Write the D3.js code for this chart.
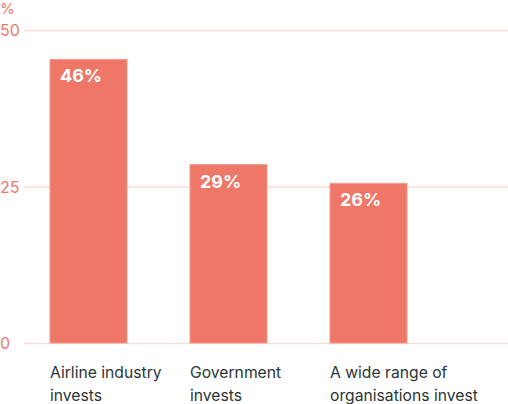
<!DOCTYPE html>
<html lang="en">
  <head>
    <meta charset="UTF-8" />
    <title>Investment</title>
  </head>
  <style type="text/css">
    body {
      margin: 0;
      background: #fff;
    }
    svg text {
      font-family: Inter, 'Noto Sans', sans-serif;
    }
  </style>

  <script src="https://d3js.org/d3.v7.min.js"></script>

  <body>
    <div class="chart"></div>
  </body>
  <script type="text/javascript">
    var categories = [
      ['Airline industry', 'invests'],
      ['Government', 'invests'],
      ['A wide range of', 'organisations invest']
    ]
    var values = [45.3, 28.5, 25.5]
    var valueLabels = ['46%', '29%', '26%']
    var yTicks = [0, 25, 50]

    var width = 508
    var height = 404
    var barColor = '#ee7768'
    var gridColor = '#fbdcd4'

    var svg = d3.select('.chart').append('svg').attr('width', width).attr('height', height)

    // y scale: 0 at 343, 50 at 30
    var y = d3.scaleLinear().domain([0, 50]).range([343, 30])
    // x band: bars 77 wide, step 140
    var x = d3
      .scaleBand()
      .domain(d3.range(categories.length))
      .range([50, 50 + 140 * categories.length - 63])
      .paddingInner(63 / 140)
      .paddingOuter(0)

    // grid lines
    svg
      .selectAll('.grid')
      .data(yTicks)
      .enter()
      .append('line')
      .attr('x1', 24)
      .attr('x2', width)
      .attr('y1', (d) => y(d) + 0.5)
      .attr('y2', (d) => y(d) + 0.5)
      .attr('stroke', gridColor)
      .attr('stroke-width', 1.5)

    // tick labels
    svg
      .selectAll('.tick')
      .data(yTicks)
      .enter()
      .append('text')
      .attr('x', 0)
      .attr('y', (d) => y(d) + 6)
      .attr('fill', barColor)
      .attr('font-size', 16)
      .text((d) => d)

    svg.append('text').attr('x', 0).attr('y', 14).attr('fill', barColor).attr('font-size', 15).text('%')

    // bars
    svg
      .selectAll('.bar')
      .data(values)
      .enter()
      .append('rect')
      .attr('x', (d, i) => x(i))
      .attr('y', (d) => y(d))
      .attr('width', x.bandwidth())
      .attr('height', (d) => y(0) - y(d))
      .attr('fill', barColor)
      .attr('stroke', '#f39a8c')
      .attr('stroke-width', 1)

    // value labels
    svg
      .selectAll('.val')
      .data(values)
      .enter()
      .append('text')
      .attr('x', (d, i) => x(i) + 10)
      .attr('y', (d) => y(d) + 23)
      .attr('fill', '#fff')
      .attr('font-size', 18)
      .attr('font-weight', 'bold')
      .text((d, i) => valueLabels[i])

    // category labels
    var cat = svg
      .selectAll('.cat')
      .data(categories)
      .enter()
      .append('text')
      .attr('x', (d, i) => x(i))
      .attr('y', 378)
      .attr('fill', '#2b3535')
      .attr('font-size', 15.7)
    cat
      .selectAll('tspan')
      .data((d) => d)
      .enter()
      .append('tspan')
      .attr('x', function () {
        return d3.select(this.parentNode).attr('x')
      })
      .attr('dy', (d, i) => (i === 0 ? 0 : 23))
      .text((d) => d)
  </script>
</html>
